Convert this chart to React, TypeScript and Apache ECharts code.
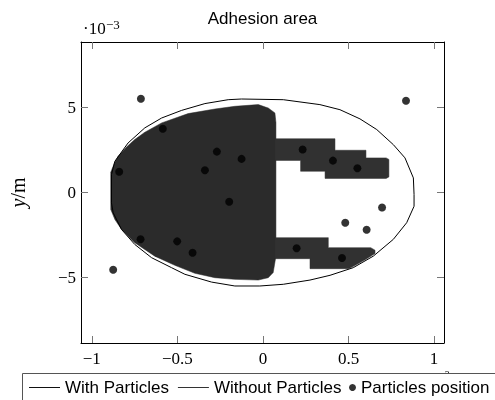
import React, { useEffect, useRef } from "react";
import * as echarts from "echarts";

// ---- data (x and y in units of 1e-3 m) ----
const xTicks = [-1, -0.5, 0, 0.5, 1];
const yTicks = [-5, 0, 5];

// "With Particles" contact outline
const withParticles: number[][] = [
  [-0.885, 1.06], [-0.865, 1.84], [-0.788, 2.92], [-0.69, 3.81], [-0.592, 4.39],
  [-0.475, 4.84], [-0.339, 5.24], [-0.203, 5.47], [-0.125, 5.51], [0.119, 5.47],
  [0.333, 5.18], [0.45, 4.88], [0.567, 4.34], [0.665, 3.71], [0.762, 2.82],
  [0.83, 2.04], [0.879, 0.86], [0.883, -0.12], [0.883, -0.81], [0.84, -1.78],
  [0.762, -2.76], [0.645, -3.75], [0.528, -4.43], [0.392, -4.88], [0.275, -5.16],
  [0.119, -5.41], [-0.018, -5.51], [-0.164, -5.51], [-0.3, -5.28], [-0.456, -4.82],
  [-0.534, -4.43], [-0.651, -3.84], [-0.749, -3.06], [-0.826, -2.18], [-0.875, -1.19],
  [-0.885, -0.61], [-0.885, 1.06],
];

// "Without Particles" adhesion region (three filled parts)
const bodyRegion: number[][] = [
  [-0.889, 1.2], [-0.865, 1.8], [-0.846, 2.14], [-0.8, 2.65], [-0.749, 3.12],
  [-0.69, 3.55], [-0.592, 4.1], [-0.437, 4.65], [-0.281, 4.92], [-0.164, 5.08],
  [-0.027, 5.18], [0.031, 4.98], [0.07, 4.69], [0.076, 4.12], [0.076, -3.75],
  [0.06, -4.72], [0.031, -5.02], [-0.027, -5.16], [-0.164, -5.12], [-0.281, -5.02],
  [-0.398, -4.76], [-0.515, -4.29], [-0.632, -3.75], [-0.749, -2.96], [-0.826, -2.18],
  [-0.865, -1.59], [-0.889, -1.0],
];
const upperFinger: number[][] = [
  [0.07, 3.17], [0.421, 3.17], [0.421, 2.49], [0.602, 2.49], [0.602, 2.04],
  [0.72, 2.04], [0.736, 1.95], [0.736, 0.92], [0.72, 0.83], [0.363, 0.83],
  [0.363, 1.25], [0.22, 1.25], [0.22, 1.89], [0.07, 1.89],
];
const lowerFinger: number[][] = [
  [0.07, -2.66], [0.382, -2.66], [0.382, -3.25], [0.63, -3.25], [0.655, -3.4],
  [0.655, -3.6], [0.6, -3.95], [0.53, -4.35], [0.5, -4.49], [0.275, -4.49],
  [0.275, -3.9], [0.07, -3.9],
];
const regions = [bodyRegion, upperFinger, lowerFinger];
const regionColors = ["#2b2b2b", "#313131", "#313131"];

// Particle positions
const particlesX = [-0.713, 0.836, -0.585, -0.269, 0.232, 0.409, 0.552, -0.125, -0.339, -0.84,
  -0.197, 0.696, 0.481, 0.606, -0.715, -0.501, 0.197, -0.411, 0.462, -0.875];
const particlesY = [5.53, 5.41, 3.76, 2.41, 2.53, 1.88, 1.43, 1.98, 1.31, 1.22,
  -0.55, -0.88, -1.78, -2.2, -2.76, -2.88, -3.29, -3.55, -3.86, -4.55];

const SERIF = "Liberation Serif";
const SANS = "Liberation Sans";
const fmt = (v: number) => (v < 0 ? "\u2212" : "") + String(Math.abs(v));

const tickStyle = { inside: true, length: 7, lineStyle: { color: "#777", width: 1 } };
const lineStyleAxis = { show: true, onZero: false, lineStyle: { color: "#000", width: 1 } };
const LINE_ICON = "path://M0 0H31V1H0Z";

export default function App() {
  const ref = useRef<HTMLDivElement>(null);
  useEffect(() => {
    const chart = echarts.init(ref.current!, null, { renderer: "svg" });
    const option: any = {
      animation: false,
      title: {
        text: "Adhesion area",
        left: 262.5,
        textAlign: "center",
        top: 10,
        padding: 0,
        textStyle: { fontFamily: SANS, fontSize: 17, fontWeight: "normal", color: "#000" },
      },
      grid: { left: 81, right: 51, top: 42, bottom: 57 },
      xAxis: [
        {
          type: "value", min: -1.063, max: 1.058, position: "bottom",
          axisLine: lineStyleAxis,
          axisTick: { ...tickStyle, customValues: xTicks },
          axisLabel: {
            customValues: xTicks, formatter: fmt, margin: 7,
            fontFamily: SERIF, fontSize: 17, color: "#000",
          },
          splitLine: { show: false },
        },
        {
          type: "value", min: -1.063, max: 1.058, position: "top",
          axisLine: lineStyleAxis,
          axisTick: { ...tickStyle, customValues: xTicks },
          axisLabel: { show: false },
          splitLine: { show: false },
        },
      ],
      yAxis: [
        {
          type: "value", min: -8.87, max: 8.87, position: "left",
          axisLine: lineStyleAxis,
          axisTick: { ...tickStyle, customValues: yTicks },
          axisLabel: {
            customValues: yTicks, formatter: fmt, margin: 5,
            fontFamily: SERIF, fontSize: 17, color: "#000",
          },
          splitLine: { show: false },
          name: "{i|y}{n|/m}",
          nameLocation: "middle",
          nameRotate: 90,
          nameGap: 53,
          nameTextStyle: {
            rich: {
              i: { fontFamily: SERIF, fontStyle: "italic", fontSize: 20, color: "#000" },
              n: { fontFamily: SERIF, fontSize: 20, color: "#000" },
            },
          },
        },
        {
          type: "value", min: -8.87, max: 8.87, position: "right",
          axisLine: lineStyleAxis,
          axisTick: { ...tickStyle, customValues: yTicks },
          axisLabel: { show: false },
          splitLine: { show: false },
        },
      ],
      legend: [
        {
          left: 29, top: 379, padding: 0, itemGap: 9, itemWidth: 31, itemHeight: 10,
          selectedMode: false, z: 20,
          textStyle: { fontFamily: SANS, fontSize: 17, color: "#000" },
          data: [
            { name: "With Particles", icon: LINE_ICON, itemStyle: { color: "#111" } },
            { name: "Without Particles", icon: LINE_ICON, itemStyle: { color: "#333" } },
          ],
        },
        {
          left: 349, top: 379, padding: 0, itemWidth: 7, itemHeight: 7,
          selectedMode: false, z: 20,
          textStyle: { fontFamily: SANS, fontSize: 17, color: "#000" },
          data: [{ name: "Particles position", icon: "circle" }],
        },
      ],
      graphic: [
        { type: "text", x: 83, y: 20, z: 5, style: { text: "\u00b710", font: `17px "${SERIF}"`, fill: "#000" } },
        { type: "text", x: 106, y: 18, z: 5, style: { text: "\u22123", font: `13px "${SERIF}"`, fill: "#000" } },
        { type: "text", x: 439, y: 369, z: 5, style: { text: "\u22123", font: `10px "${SERIF}"`, fill: "#000" } },
        {
          type: "rect", z: 10,
          shape: { x: 22.5, y: 373.5, width: 520, height: 40 },
          style: { fill: "#fff", stroke: "#555", lineWidth: 1 },
        },
      ],
      series: [
        {
          name: "Without Particles",
          type: "custom",
          coordinateSystem: "cartesian2d",
          z: 1,
          itemStyle: { color: "#333" },
          encode: { x: 0, y: 1 },
          data: regions.map((r, i) => [r[0][0], r[0][1], i]),
          renderItem: (params: any, api: any) => {
            const idx = api.value(2);
            const pts = regions[idx].map((p) => api.coord(p));
            return {
              type: "polygon",
              shape: { points: pts },
              style: { fill: regionColors[idx], stroke: regionColors[idx], lineWidth: 0.5 },
            };
          },
        },
        {
          name: "With Particles",
          type: "line",
          z: 3,
          symbol: "none",
          showSymbol: false,
          lineStyle: { color: "#000", width: 1 },
          itemStyle: { color: "#000" },
          data: withParticles,
        },
        {
          name: "Particles position",
          type: "scatter",
          z: 4,
          symbolSize: 8,
          itemStyle: { color: "#000" },
          data: particlesX.map((x, i) => [x, particlesY[i]]),
        },
      ],
    };
    chart.setOption(option);
    return () => chart.dispose();
  }, []);
  return <div ref={ref} style={{ position: "fixed", left: 0, top: 0, width: 495, height: 400 }} />;
}
